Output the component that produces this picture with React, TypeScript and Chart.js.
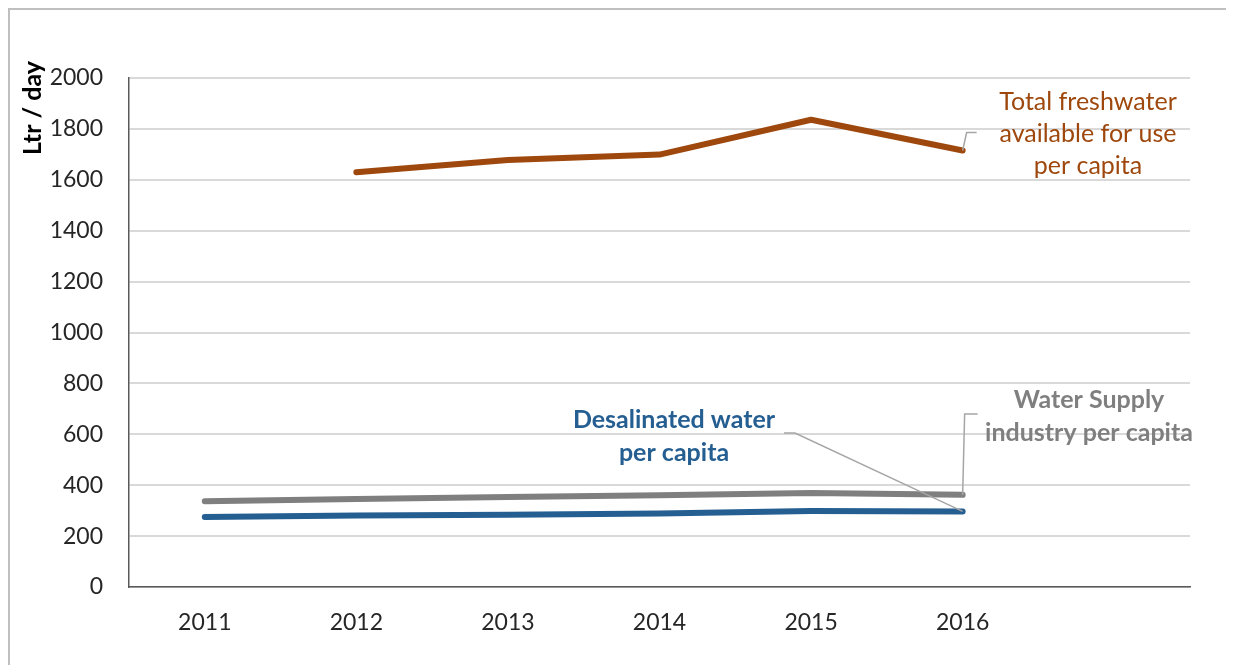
import React, { useEffect, useRef } from "react";
import { Chart, registerables } from "chart.js";

Chart.register(...registerables);

const categories = ["2011", "2012", "2013", "2014", "2015", "2016", ""];
const freshwater = [null, 1630, 1678, 1699, 1836, 1715, null];
const waterSupply = [337, 346, 354, 361, 369, 362, null];
const desalinated = [275, 281, 284, 289, 299, 297, null];
const yMin = 0;
const yMax = 2000;
const yStep = 200;

const FONT = "Lato, 'Open Sans', sans-serif";
const BROWN = "#9E480E";
const BLUE = "#255E91";
const GRAY = "#7F7F7F";
const LEADER = "#A6A6A6";

const annotations = {
  id: "annotations",
  afterDraw(chart: any) {
    const ctx = chart.ctx;
    const xs = chart.scales.x;
    const ys = chart.scales.y;
    ctx.save();
    // y title
    ctx.save();
    ctx.translate(23, 98);
    ctx.rotate(-Math.PI / 2);
    ctx.font = `bold 25px ${FONT}`;
    ctx.fillStyle = "#000";
    ctx.textAlign = "center";
    ctx.textBaseline = "middle";
    ctx.fillText("Ltr / day", 0, 0);
    ctx.restore();

    ctx.strokeStyle = LEADER;
    ctx.lineWidth = 1.5;
    // freshwater leader
    const fx = xs.getPixelForValue(5);
    const fy = ys.getPixelForValue(freshwater[5] as number);
    ctx.beginPath();
    ctx.moveTo(fx, fy);
    ctx.lineTo(fx + 4, fy - 18);
    ctx.lineTo(fx + 14, fy - 18);
    ctx.stroke();
    // water supply leader
    const sx = xs.getPixelForValue(5);
    const sy = ys.getPixelForValue(waterSupply[5] as number);
    ctx.beginPath();
    ctx.moveTo(sx, sy);
    ctx.lineTo(sx + 2, 404);
    ctx.lineTo(sx + 15, 404);
    ctx.stroke();
    // desalinated leader
    const dx = xs.getPixelForValue(5);
    const dy = ys.getPixelForValue(desalinated[5] as number);
    ctx.beginPath();
    ctx.moveTo(dx, dy);
    ctx.lineTo(785, 423);
    ctx.lineTo(774, 423);
    ctx.stroke();

    ctx.textAlign = "center";
    ctx.textBaseline = "middle";
    ctx.font = `25px ${FONT}`;
    ctx.fillStyle = BROWN;
    ["Total freshwater", "available for use", "per capita"].forEach((t, i) =>
      ctx.fillText(t, 1078, 92 + i * 32)
    );
    ctx.font = `bold 25px ${FONT}`;
    ctx.fillStyle = "#7F7F7F";
    ["Water Supply", "industry per capita"].forEach((t, i) =>
      ctx.fillText(t, 1079, 390 + i * 33)
    );
    ctx.fillStyle = BLUE;
    ["Desalinated water", "per capita"].forEach((t, i) =>
      ctx.fillText(t, 664, 410 + i * 33)
    );
    ctx.restore();
  },
};

export default function App() {
  const ref = useRef<HTMLCanvasElement | null>(null);
  useEffect(() => {
    document.documentElement.style.overflow = "hidden";
    document.body.style.overflow = "hidden";
    if (!ref.current) return;
    const chart = new Chart(ref.current, {
      type: "line",
      data: {
        labels: categories,
        datasets: [
          {
            label: "Total freshwater available for use per capita",
            data: freshwater,
            borderColor: BROWN,
            borderWidth: 6,
            pointRadius: 0,
            borderCapStyle: "round",
            borderJoinStyle: "round",
          },
          {
            label: "Water Supply industry per capita",
            data: waterSupply,
            borderColor: GRAY,
            borderWidth: 6,
            pointRadius: 0,
            borderCapStyle: "round",
            borderJoinStyle: "round",
          },
          {
            label: "Desalinated water per capita",
            data: desalinated,
            borderColor: BLUE,
            borderWidth: 6,
            pointRadius: 0,
            borderCapStyle: "round",
            borderJoinStyle: "round",
          },
        ],
      },
      options: {
        responsive: false,
        animation: false,
        layout: { padding: { left: 0, top: 68, right: 44, bottom: 0 } },
        plugins: {
          legend: { display: false },
          tooltip: { enabled: false },
        },
        scales: {
          x: {
            offset: true,
            grid: { display: false, drawTicks: false },
            border: { display: true, color: "#595959", width: 1.5 },
            ticks: {
              padding: 22,
              color: "#262626",
              font: { family: FONT, size: 23 },
              maxRotation: 0,
              autoSkip: false,
            },
            afterFit(scale: any) {
              scale.height = 70;
            },
          },
          y: {
            min: yMin,
            max: yMax,
            ticks: {
              stepSize: yStep,
              padding: 26,
              color: "#262626",
              font: { family: FONT, size: 23 },
              callback: (v: any) => String(v),
            },
            grid: { color: "#D9D9D9", lineWidth: 2, drawTicks: false },
            border: { display: true, color: "#595959", width: 1.5 },
            afterFit(scale: any) {
              scale.width = 119;
            },
          },
        },
      },
      plugins: [annotations],
    });
    return () => chart.destroy();
  }, []);
  return (
    <div
      style={{
        width: 1260,
        height: 700,
        borderTop: "2px solid #BFBFBF",
        borderLeft: "2px solid #BFBFBF",
        background: "#fff",
      }}
    >
      <canvas ref={ref} width={1224} height={647} style={{ display: "block" }} />
    </div>
  );
}
